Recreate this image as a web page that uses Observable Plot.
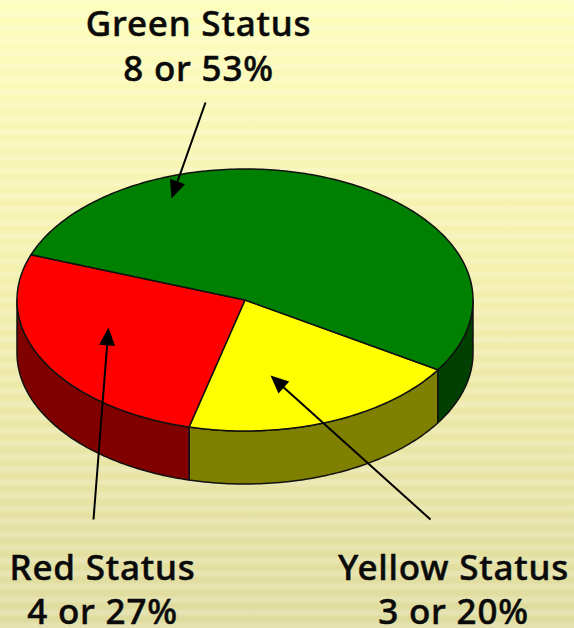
<!DOCTYPE html>
<html><head><meta charset="utf-8">
<script src="https://cdn.jsdelivr.net/npm/d3@7"></script>
<script src="https://cdn.jsdelivr.net/npm/@observablehq/plot@0.6"></script>
<style>
html,body{margin:0;padding:0;width:574px;height:628px;overflow:hidden}
body{background:
 repeating-linear-gradient(to bottom,rgba(255,255,255,.2) 0 3px,rgba(255,255,255,0) 6px 10px,rgba(255,255,255,.2) 13px),
 linear-gradient(to bottom,#fdfdbc 0%,#f3efac 45%,#dedb9e 100%);}
#chart text{letter-spacing:.8px}
</style></head><body><div id="chart"></div>
<script>
const names=["Yellow Status","Red Status","Green Status"];
const counts=[3,4,8];
const topColors=["#ffff00","#ff0000","#008000"];
const wallColors=["#808000","#800000","#004000"];
const labelLines=[["Yellow Status","3 or 20%"],["Red Status","4 or 27%"],["Green Status","8 or 53%"]];
const labelX=[453,102,198];
const labelY=[[568,612],[568,612],[24,69]];
const leaderFrom=[[430,519],[93,519],[205,102]];
const leaderTo=[[270,375],[108,327],[171,198]];

const cx=244.5,cy=299.5,rx=228,ry=131,depth=53,startAngle=32.2;
const total=d3.sum(counts);
const pt=(a,dy=0)=>{const t=a*Math.PI/180;return [cx+rx*Math.cos(t),cy+ry*Math.sin(t)+dy]};
let acc=startAngle;
const slices=names.map((n,i)=>{const a0=acc;acc+=counts[i]/total*360;return {n,i,a0,a1:acc}});
const arc=(a0,a1)=>{const s=[];const k=Math.max(2,Math.ceil(a1-a0));for(let j=0;j<=k;j++)s.push(a0+(a1-a0)*j/k);return s};
const tops=[],walls=[];
for(const s of slices){
  [[cx,cy],...arc(s.a0,s.a1).map(a=>pt(a))].forEach(([x,y])=>tops.push({x,y,k:s.n,c:topColors[s.i]}));
  for(const off of [0,360,-360]){
    const a0=Math.max(s.a0+off,0),a1=Math.min(s.a1+off,180);
    if(a1>a0){
      const id=s.n+off;
      [...arc(a0,a1).map(a=>pt(a)),...arc(a0,a1).reverse().map(a=>pt(a,depth))]
        .forEach(([x,y])=>walls.push({x,y,k:id,c:wallColors[s.i]}));
    }
  }
}
const heads=[];
const links=leaderFrom.map((f,i)=>{
  const t=leaderTo[i],d=Math.hypot(t[0]-f[0],t[1]-f[1]),ux=(t[0]-f[0])/d,uy=(t[1]-f[1])/d,L=18,W=8;
  [[t[0],t[1]],[t[0]-ux*L-uy*W,t[1]-uy*L+ux*W],[t[0]-ux*L+uy*W,t[1]-uy*L-ux*W]]
    .forEach(([x,y])=>heads.push({x,y,k:i}));
  return {x1:f[0],y1:f[1],x2:t[0]-ux*10,y2:t[1]-uy*10};
});
const labels=labelLines.flatMap((ls,i)=>ls.map((t,j)=>({t,x:labelX[i],y:labelY[i][j]})));
const plot=Plot.plot({
  width:574,height:628,margin:0,
  x:{domain:[0,574],range:[0,574],axis:null},
  y:{domain:[0,628],range:[0,628],axis:null},
  style:{background:"transparent"},
  marks:[
    Plot.line(walls,{x:"x",y:"y",z:"k",fill:"c",stroke:"#111",strokeWidth:1.5,curve:"linear-closed"}),
    Plot.line(tops,{x:"x",y:"y",z:"k",fill:"c",stroke:"#111",strokeWidth:1.5,curve:"linear-closed"}),
    Plot.link(links,{x1:"x1",y1:"y1",x2:"x2",y2:"y2",stroke:"black",strokeWidth:2}),
    Plot.line(heads,{x:"x",y:"y",z:"k",fill:"black",stroke:"none",curve:"linear-closed"}),
    Plot.text(labels,{x:"x",y:"y",text:"t",fontSize:35,fontWeight:500,fill:"#0a0a0a",stroke:"#0a0a0a",strokeWidth:0.5,fontFamily:"'Noto Sans'"})
  ]
});
document.getElementById("chart").append(plot);
</script></body></html>
